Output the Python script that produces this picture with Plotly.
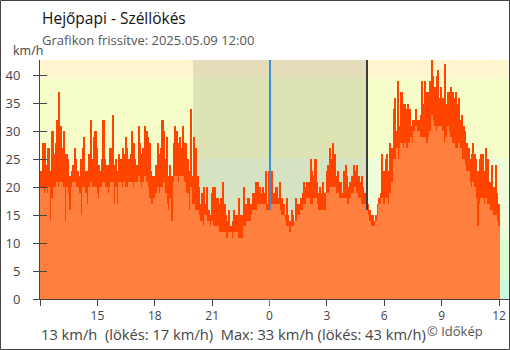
import pandas as pd
import plotly.graph_objects as go

# Station / labels
title_text = "Hejőpapi - Széllökés"
subtitle_text = "Grafikon frissítve: 2025.05.09 12:00"
unit_text = "km/h"
summary_text = "13 km/h  (lökés: 17 km/h)  Max: 33 km/h (lökés: 43 km/h)"
credit_text = "© Időkép"

# 5-minute samples from 2025-05-08 12:00 to 2025-05-09 12:00
start_time = "2025-05-08 12:00"
step = "5min"

gust = [
    23, 23, 28, 28, 24, 27, 27, 23, 30, 26, 28, 32,   # 12
    37, 31, 27, 30, 26, 26, 25, 22, 23, 24, 27, 25,   # 13
    23, 22, 25, 27, 29, 23, 23, 26, 32, 25, 29, 30,   # 14
    27, 24, 23, 25, 32, 25, 24, 24, 27, 27, 33, 24,   # 15
    25, 23, 26, 25, 27, 26, 29, 27, 25, 26, 30, 28,   # 16
    25, 24, 31, 28, 26, 27, 31, 30, 29, 28, 23, 22,   # 17
    22, 24, 28, 26, 27, 32, 30, 25, 29, 22, 24, 22,   # 18
    28, 31, 30, 28, 29, 27, 31, 28, 28, 25, 23, 34,   # 19
    22, 29, 27, 22, 20, 17, 19, 20, 17, 20, 16, 15,   # 20
    19, 20, 20, 18, 18, 17, 18, 21, 17, 15, 14, 16,   # 21
    13, 14, 16, 15, 15, 18, 15, 15, 20, 17, 17, 18,   # 22
    17, 17, 19, 19, 21, 21, 20, 19, 20, 19, 23, 17,   # 23
    23, 22, 23, 19, 20, 20, 18, 21, 18, 17, 15, 18,   # 0
    15, 14, 16, 15, 14, 18, 17, 17, 18, 19, 21, 20,   # 1
    21, 21, 25, 23, 22, 25, 21, 19, 20, 19, 21, 19,   # 2
    23, 24, 27, 25, 28, 26, 22, 23, 21, 21, 19, 23,   # 3
    24, 22, 20, 21, 22, 24, 23, 24, 22, 21, 22, 20,   # 4
    19, 18, 17, 16, 15, 15, 14, 15, 17, 18, 19, 26,   # 5
    23, 25, 26, 23, 28, 27, 34, 36, 30, 39, 31, 37,   # 6
    35, 35, 34, 35, 34, 31, 32, 32, 34, 32, 32, 33,   # 7
    39, 35, 39, 37, 37, 39, 43, 40, 38, 40, 41, 36,   # 8
    38, 36, 42, 35, 37, 37, 38, 37, 36, 37, 35, 36,   # 9
    32, 33, 31, 30, 28, 27, 25, 26, 28, 26, 25, 23,   # 10
    25, 26, 26, 23, 27, 25, 21, 21, 24, 20, 24, 19,   # 11
    17,                                               # 12:00
]

avg = [
    19, 20, 20, 19, 20, 19, 20, 14, 18, 20, 20, 21,   # 12
    20, 21, 21, 20, 14, 20, 19, 16, 20, 21, 21, 20,   # 13
    20, 19, 15, 20, 20, 19, 17, 20, 21, 20, 20, 20,   # 14
    19, 18, 20, 20, 21, 20, 20, 19, 20, 21, 21, 17,   # 15
    20, 17, 21, 21, 20, 21, 20, 20, 21, 21, 21, 20,   # 16
    21, 21, 22, 21, 20, 21, 22, 21, 20, 18, 17, 17,   # 17
    18, 19, 20, 19, 20, 20, 21, 19, 17, 16, 18, 14,   # 18
    21, 22, 22, 21, 22, 22, 22, 21, 19, 19, 16, 20,   # 19
    17, 17, 16, 16, 15, 14, 14, 13, 15, 14, 14, 13,   # 20
    14, 13, 13, 13, 13, 12, 12, 12, 12, 11, 11, 12,   # 21
    12, 11, 12, 12, 12, 11, 11, 11, 13, 13, 14, 14,   # 22
    14, 15, 16, 16, 16, 17, 17, 17, 17, 17, 16, 16,   # 23
    16, 16, 17, 17, 17, 17, 17, 16, 15, 15, 14, 13,   # 0
    13, 12, 13, 13, 14, 14, 15, 15, 16, 16, 17, 17,   # 1
    18, 18, 17, 17, 18, 18, 17, 16, 16, 16, 16, 16,   # 2
    19, 19, 20, 20, 20, 20, 19, 19, 18, 18, 18, 18,   # 3
    18, 17, 17, 18, 19, 19, 20, 19, 18, 18, 17, 17,   # 4
    17, 16, 15, 14, 13, 13, 13, 14, 15, 17, 17, 18,   # 5
    17, 18, 18, 17, 19, 21, 25, 25, 27, 25, 27, 28,   # 6
    27, 28, 27, 27, 28, 29, 28, 30, 31, 30, 30, 29,   # 7
    29, 29, 29, 28, 29, 30, 33, 32, 31, 30, 31, 31,   # 8
    31, 30, 28, 29, 31, 30, 29, 28, 28, 27, 27, 28,   # 9
    27, 25, 25, 24, 23, 23, 21, 20, 21, 20, 18, 13,   # 10
    17, 18, 18, 17, 18, 17, 17, 16, 16, 15, 15, 14,   # 11
    13,                                               # 12:00
]

times = pd.date_range(start_time, periods=len(gust), freq=step)

# Axis setup
x_start = pd.Timestamp("2025-05-08 12:00")
x_end = pd.Timestamp("2025-05-09 12:31:22")
y_max = 42.8
y_ticks = [0, 5, 10, 15, 20, 25, 30, 35, 40]
x_tick_times = pd.date_range("2025-05-08 12:00", "2025-05-09 12:00", freq="3h")
x_tick_labels = ["", "15", "18", "21", "0", "3", "6", "9", "12"]

# Wind-speed background bands (km/h) and their colours
band_edges = [0, 3.6, 10.8, 25.2, 39.6, y_max]
band_colors = ["#C9FAD9", "#DBFDD0", "#EEFDD9", "#F6FDC8", "#FFF6D0"]

# Night and day markers
sunset = pd.Timestamp("2025-05-08 20:00")
sunrise = pd.Timestamp("2025-05-09 05:06")
midnight = pd.Timestamp("2025-05-09 00:00")

bar_ms = 5 * 60 * 1000
line_ms = 190000

fig = go.Figure()

fig.add_trace(go.Bar(x=times, y=gust, width=bar_ms, marker=dict(color="#FF4400", line=dict(width=0)),
                     hoverinfo="skip", name="lökés"))
fig.add_trace(go.Bar(x=[midnight], y=[y_max], width=line_ms, marker=dict(color="#3A8FD2", line=dict(width=0)),
                     hoverinfo="skip"))
fig.add_trace(go.Bar(x=[sunrise], y=[y_max], width=line_ms, marker=dict(color="#3C3C3C", line=dict(width=0)),
                     hoverinfo="skip"))
fig.add_trace(go.Bar(x=times, y=avg, width=bar_ms, marker=dict(color="#FF7F3F", line=dict(width=0)),
                     hoverinfo="skip", name="átlag", yaxis="y2"))

shapes = []
for lo, hi, col in zip(band_edges[:-1], band_edges[1:], band_colors):
    shapes.append(dict(type="rect", xref="paper", yref="y", x0=0, x1=1, y0=lo, y1=hi,
                       fillcolor=col, line=dict(width=0), layer="below"))
shapes.append(dict(type="rect", xref="x", yref="paper", x0=sunset, x1=sunrise, y0=0, y1=1,
                   fillcolor="rgba(0,0,0,0.10)", line=dict(width=0), layer="below"))
# blue tick mark under midnight
shapes.append(dict(type="line", xref="x", yref="paper", x0=midnight, x1=midnight, y0=0, y1=-6 / 239,
                   line=dict(color="#3A8FD2", width=1), layer="above"))
# outer frame of the figure
L, R, T, B = 40, 1, 60, 51
PW, PH = 510 - L - R, 350 - T - B
shapes.append(dict(type="rect", xref="paper", yref="paper",
                   x0=(0.5 - L) / PW, x1=(509.5 - L) / PW,
                   y0=(T + PH - 349.5) / PH, y1=(T + PH - 0.5) / PH,
                   line=dict(color="#444444", width=1), fillcolor="rgba(0,0,0,0)", layer="above"))


def px_x(px):
    return (px - L) / PW


def px_y(py):
    return (T + PH - py) / PH


font_family = "Open Sans"
annotations = [
    dict(text=title_text, x=px_x(40), y=px_y(18), xanchor="left", yanchor="middle",
         font=dict(family=font_family, size=15.5, color="#111111")),
    dict(text=subtitle_text, x=px_x(40), y=px_y(40), xanchor="left", yanchor="middle",
         font=dict(family=font_family, size=13, color="#555555")),
    dict(text=unit_text, x=px_x(11), y=px_y(51), xanchor="left", yanchor="middle",
         font=dict(family=font_family, size=12.5, color="#444444")),
    dict(text=summary_text, x=px_x(39), y=px_y(334), xanchor="left", yanchor="middle",
         font=dict(family=font_family, size=14.7, color="#444444")),
    dict(text=credit_text, x=px_x(425), y=px_y(331), xanchor="left", yanchor="middle",
         font=dict(family=font_family, size=13, color="#555555")),
]
for a in annotations:
    a.update(xref="paper", yref="paper", showarrow=False)

fig.update_layout(
    width=510, height=350,
    margin=dict(l=L, r=R, t=T, b=B, pad=0),
    paper_bgcolor="white", plot_bgcolor="white",
    barmode="overlay", bargap=0, showlegend=False,
    shapes=shapes, annotations=annotations,
    font=dict(family=font_family, color="#444444"),
    xaxis=dict(type="date", range=[x_start, x_end], tickmode="array",
               tickvals=list(x_tick_times), ticktext=x_tick_labels,
               ticks="outside", ticklen=6, tickcolor="#444444", tickwidth=1,
               showline=True, linecolor="#444444", linewidth=1,
               showgrid=False, zeroline=False,
               tickfont=dict(size=12, color="#444444")),
    yaxis=dict(range=[0, y_max], tickmode="array", tickvals=y_ticks,
               ticks="outside", ticklen=6, tickcolor="#444444", tickwidth=1,
               ticklabelstandoff=10,
               showline=True, linecolor="#444444", linewidth=1,
               showgrid=False, zeroline=False,
               tickfont=dict(size=13, color="#444444")),
    yaxis2=dict(range=[0, y_max], overlaying="y", side="left", tickmode="array", tickvals=y_ticks,
                ticks="inside", ticklen=7, tickcolor="#444444", tickwidth=1,
                showticklabels=False, showline=False, showgrid=False, zeroline=False),
)

fig.write_html("out.html")
